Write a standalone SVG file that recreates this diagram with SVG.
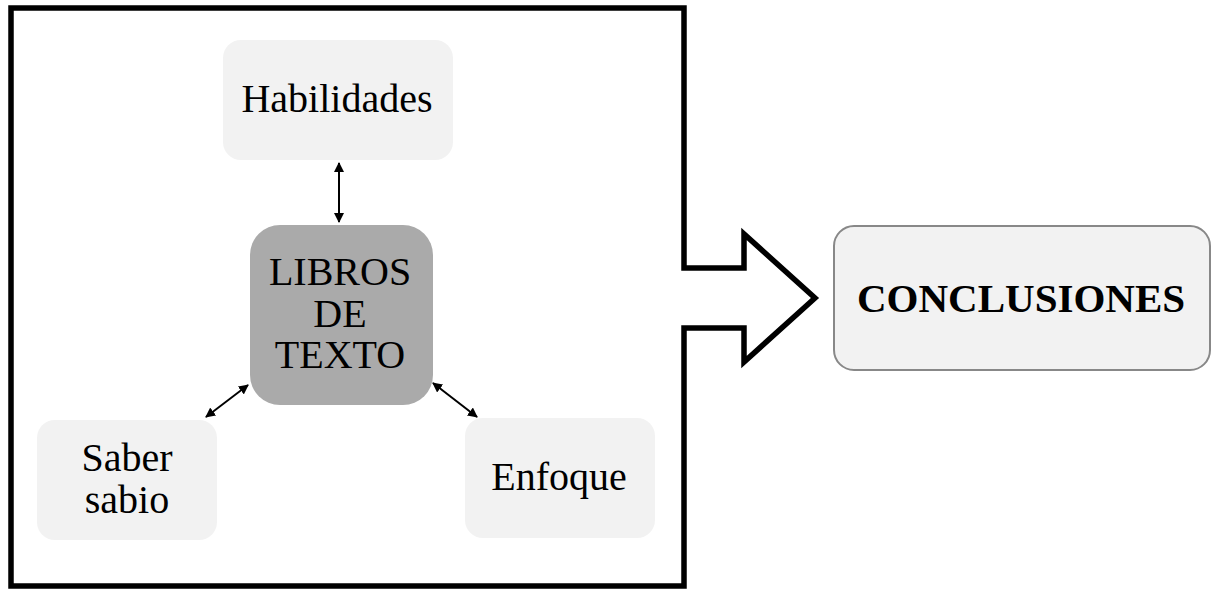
<svg xmlns="http://www.w3.org/2000/svg" width="1216" height="591" viewBox="0 0 1216 591">
<style>
.t{font-family:"Liberation Serif","Times New Roman",serif;font-size:40px;fill:#000;text-anchor:middle}
.b{font-weight:bold;font-size:41px}
.lt{fill:#f2f2f2}
.c{stroke:#000;stroke-width:2;fill:none}
</style>
<defs>
<marker id="ah" viewBox="0 0 10 10" refX="9" refY="5" markerWidth="5" markerHeight="5" orient="auto-start-reverse" markerUnits="strokeWidth">
<path d="M0,0 L10,5 L0,10 Z" fill="#000"/>
</marker>
</defs>
<rect width="1216" height="591" fill="#fff"/>
<g id="frame">
<path d="M11,8 H684 V268 H744 V234 L815,298 L744,362 V328 H684 V586 H11 Z" fill="none" stroke="#000" stroke-width="5.5" stroke-linejoin="miter"/>
</g>
<g id="habilidades">
<rect class="lt" x="223" y="40" width="230" height="120" rx="18"/>
<text class="t" x="337" y="112">Habilidades</text>
</g>
<g id="libros">
<rect x="250" y="225" width="183" height="180" rx="30" fill="#aaaaaa"/>
<text class="t" x="340" y="285">LIBROS</text>
<text class="t" x="340" y="327">DE</text>
<text class="t" x="340" y="368">TEXTO</text>
</g>
<g id="saber">
<rect class="lt" x="37" y="420" width="180" height="120" rx="18"/>
<text class="t" x="127" y="471">Saber</text>
<text class="t" x="127" y="513">sabio</text>
</g>
<g id="enfoque">
<rect class="lt" x="465" y="418" width="190" height="120" rx="18"/>
<text class="t" x="559" y="490">Enfoque</text>
</g>
<g id="conclusiones">
<rect x="834" y="226" width="376" height="144" rx="20" fill="#f2f2f2" stroke="#888" stroke-width="2"/>
<text class="t b" x="1021" y="312">CONCLUSIONES</text>
</g>
<g id="connectors">
<line class="c" x1="339" y1="163" x2="339" y2="222" marker-start="url(#ah)" marker-end="url(#ah)"/>
<line class="c" x1="248" y1="385" x2="206" y2="417" marker-start="url(#ah)" marker-end="url(#ah)"/>
<line class="c" x1="433" y1="383" x2="477" y2="417" marker-start="url(#ah)" marker-end="url(#ah)"/>
</g>
</svg>
